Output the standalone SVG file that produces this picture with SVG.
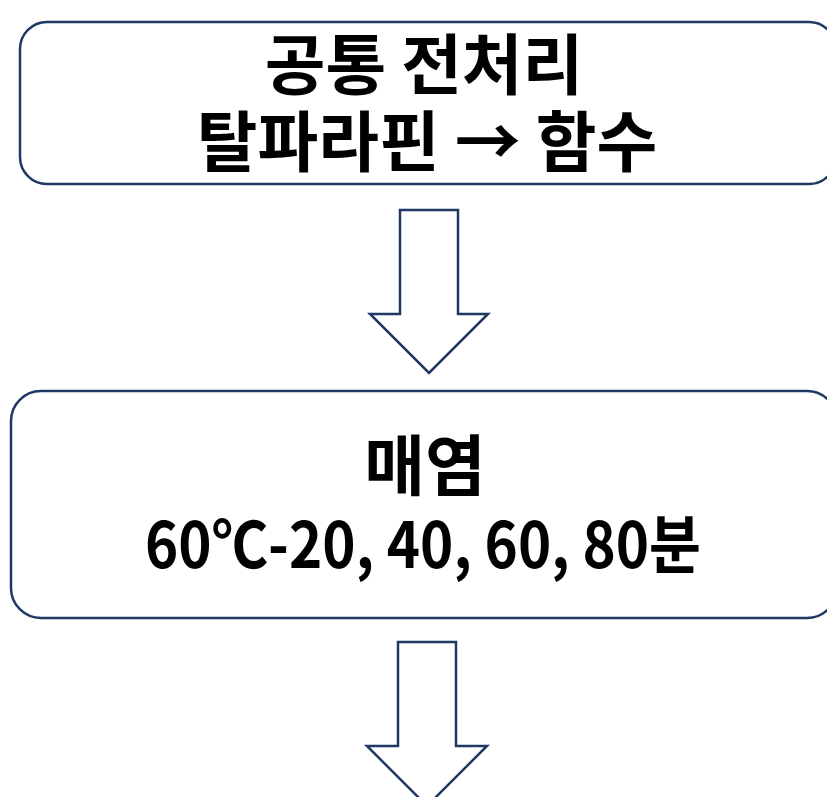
<svg xmlns="http://www.w3.org/2000/svg" width="827" height="797" viewBox="0 0 827 797">
<style>
.box{fill:#ffffff;stroke:#1f3864;stroke-width:2.5}
.arr{fill:#ffffff;stroke:#1f3864;stroke-width:2.5;stroke-linejoin:miter}
.t{font-family:"Noto Sans CJK KR","Noto Sans",sans-serif;font-weight:bold;fill:#000000;text-anchor:middle}
</style>
<rect width="827" height="797" fill="#ffffff"/>
<g id="node1">
<rect class="box" x="20" y="22" width="816" height="162" rx="27" ry="27"/>
<text class="t" x="424" y="89" font-size="66">공통 전처리</text>
<text class="t" x="427" y="166" font-size="66">탈파라핀 → 함수</text>
</g>
<g id="node2">
<rect class="box" x="11" y="391" width="826" height="227" rx="30" ry="30"/>
<text class="t" x="425" y="490" font-size="66">매염</text>
<text class="t" x="423" y="568" font-size="64" textLength="556" lengthAdjust="spacingAndGlyphs">60℃-20, 40, 60, 80분</text>
</g>
<g id="connectors">
<polygon class="arr" points="400,210 458,210 458,314 488,314 429,373 370,314 400,314"/>
<polygon class="arr" points="398,642 456,642 456,746 487,746 427,806 367,746 398,746"/>
</g>
</svg>
